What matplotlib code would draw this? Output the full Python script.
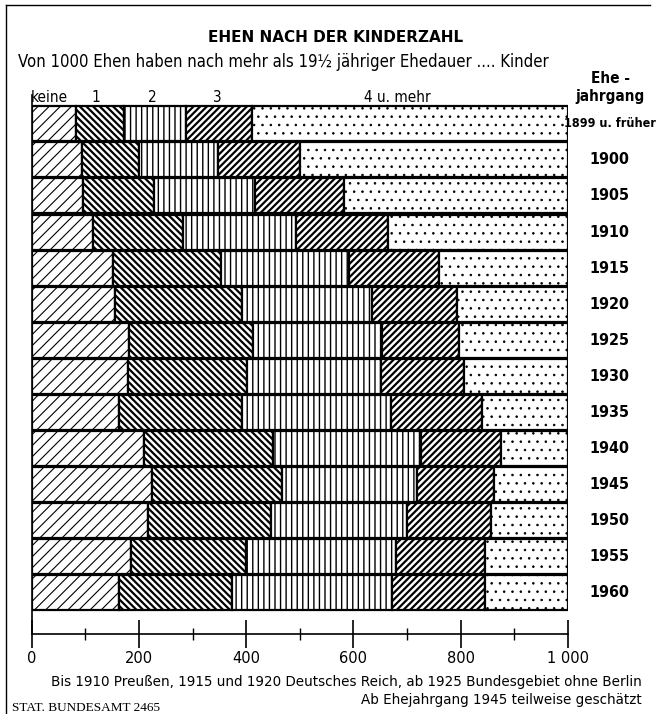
import matplotlib
matplotlib.use('Agg')
import matplotlib.pyplot as plt
from matplotlib.font_manager import FontProperties, findfont
import numpy as np

# jahrgang labels, top row first
years = ['1899 u. früher', '1900', '1905', '1910', '1915', '1920', '1925',
         '1930', '1935', '1940', '1945', '1950', '1955', '1960']
categories = ['keine', '1', '2', '3', '4 u. mehr']

# von 1000 Ehen
keine = [83, 94, 95, 115, 152, 155, 182, 179, 163, 210, 224, 216, 185, 163]
eins = [89, 106, 134, 168, 202, 237, 230, 223, 229, 241, 242, 230, 214, 210]
zwei = [116, 148, 188, 210, 238, 243, 242, 250, 279, 275, 253, 254, 281, 299]
drei = [123, 153, 166, 172, 168, 158, 143, 155, 169, 150, 144, 156, 166, 174]
vier = [589, 499, 417, 335, 240, 207, 203, 193, 160, 124, 137, 144, 154, 154]

series = [keine, eins, zwei, drei, vier]
hatches = ['///', '\\\\\\\\\\', '|||', '/////', '..']
hatch_lw = [0.8, 1.6, 1.0, 1.6, 0.6]

# condensed face if there is one, else a narrower sans at smaller size
cond = FontProperties(family='DejaVu Sans', stretch='condensed')
if 'Condensed' in findfont(cond):
    nfont = dict(family='DejaVu Sans', stretch='condensed')
    scale = 1.0
else:
    nfont = dict(family='Liberation Sans')
    scale = 0.88

fig = plt.figure(figsize=(6.57, 7.14), dpi=100)
ax = fig.add_axes([0.0483, 0.112, 0.8158, 0.755])

ypos = np.arange(len(years))[::-1]
left = np.zeros(len(years))
for vals, h, lw in zip(series, hatches, hatch_lw):
    with plt.rc_context({'hatch.linewidth': lw}):
        ax.barh(ypos, vals, left=left, height=0.97, color='white',
                edgecolor='black', linewidth=1.6, hatch=h)
    left = left + np.array(vals)

ax.set_xlim(0, 1000)
ax.set_ylim(-1.14, 13.8)
for s in ['top', 'right']:
    ax.spines[s].set_visible(False)
ax.spines['left'].set_linewidth(1.2)
ax.spines['bottom'].set_linewidth(1.2)
ax.set_yticks([])
ax.set_xticks(np.arange(0, 1001, 200))
ax.set_xticks(np.arange(100, 1000, 200), minor=True)
ax.set_xticklabels(['0', '200', '400', '600', '800', '1 000'])
ax.tick_params(axis='x', which='major', direction='inout', length=20,
               width=1.2, labelsize=10.5, pad=2)
ax.tick_params(axis='x', which='minor', direction='inout', length=8, width=1)

# category labels above the first bar
label_x = [32, 119, 226, 346, 683]
for cx, name in zip(label_x, categories):
    ax.text(cx, 13.52, name, ha='center', va='bottom', fontsize=11 * scale,
            **nfont)

# jahrgang labels on the right
for y, name in zip(ypos, years):
    fs = 9.0 if 'früher' in name else 11.5
    ax.text(1078, y, name, ha='center', va='center', fontsize=fs * scale,
            fontweight='bold', **nfont)
ax.text(1079, 14.05, 'Ehe -', ha='center', va='bottom', fontsize=11 * scale,
        fontweight='bold', **nfont)
ax.text(1079, 13.55, 'jahrgang', ha='center', va='bottom',
        fontsize=11 * scale, fontweight='bold', **nfont)

fig.text(0.51, 0.947, 'EHEN NACH DER KINDERZAHL', ha='center', va='center',
         fontsize=11, fontweight='bold')
fig.text(0.431, 0.913,
         'Von 1000 Ehen haben nach mehr als 19½ jähriger Ehedauer .... Kinder',
         ha='center', va='center', fontsize=12 * scale, **nfont)

fig.text(0.977, 0.045,
         'Bis 1910 Preußen, 1915 und 1920 Deutsches Reich, ab 1925 Bundesgebiet ohne Berlin',
         ha='right', va='center', fontsize=9.75)
fig.text(0.977, 0.02, 'Ab Ehejahrgang 1945 teilweise geschätzt',
         ha='right', va='center', fontsize=9.75)
fig.text(0.018, 0.009, 'STAT. BUNDESAMT 2465', ha='left', va='center',
         fontsize=9.5, family='Liberation Serif')

# frame lines at left and top
fig.add_artist(plt.Line2D([0.009, 0.009], [0.0, 0.993], color='black', lw=1))
fig.add_artist(plt.Line2D([0.009, 0.99], [0.993, 0.993], color='black', lw=1))

fig.savefig('out.png', dpi=100)
